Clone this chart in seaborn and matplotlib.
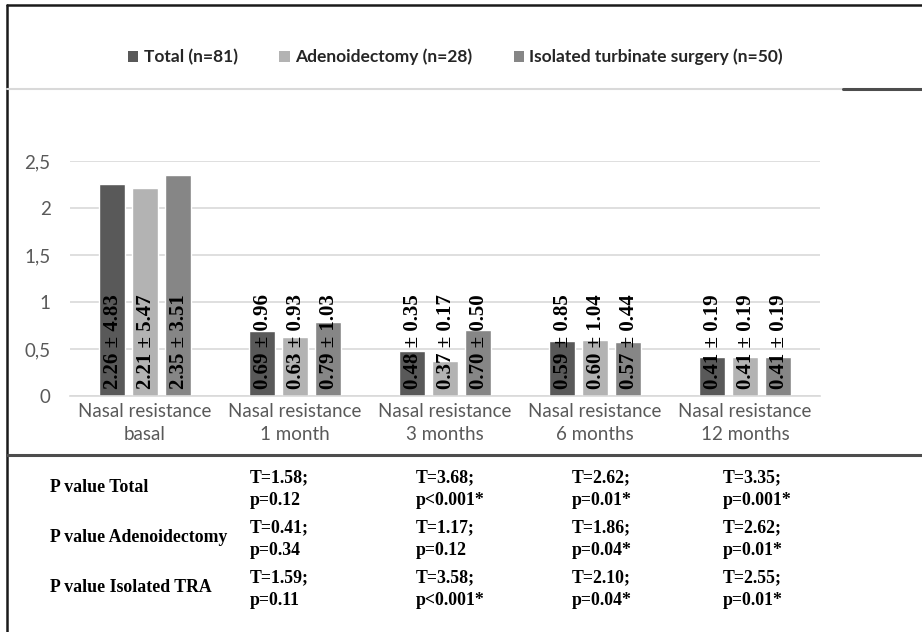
import matplotlib
matplotlib.use("Agg")
import matplotlib.pyplot as plt
from matplotlib.lines import Line2D
from matplotlib.patches import Patch
import seaborn as sns
import pandas as pd

# ---- data -------------------------------------------------------------
timepoints = ["Nasal resistance\nbasal", "Nasal resistance\n1 month",
              "Nasal resistance\n3 months", "Nasal resistance\n6 months",
              "Nasal resistance\n12 months"]
groups = ["Total (n=81)", "Adenoidectomy (n=28)",
          "Isolated turbinate surgery (n=50)"]

mean_total = [2.26, 0.69, 0.48, 0.59, 0.41]
mean_adeno = [2.21, 0.63, 0.37, 0.60, 0.41]
mean_isolated = [2.35, 0.79, 0.70, 0.57, 0.41]

sd_total = [4.83, 0.96, 0.35, 0.85, 0.19]
sd_adeno = [5.47, 0.93, 0.17, 1.04, 0.19]
sd_isolated = [3.51, 1.03, 0.50, 0.44, 0.19]

ytick_values = [0, 0.5, 1, 1.5, 2, 2.5]
ytick_labels = ["0", "0,5", "1", "1,5", "2", "2,5"]

row_labels = ["P value Total", "P value Adenoidectomy", "P value Isolated TRA"]
stats_total = ["T=1.58;\np=0.12", "T=3.68;\np<0.001*", "T=2.62;\np=0.01*", "T=3.35;\np=0.001*"]
stats_adeno = ["T=0.41;\np=0.34", "T=1.17;\np=0.12", "T=1.86;\np=0.04*", "T=2.62;\np=0.01*"]
stats_isolated = ["T=1.59;\np=0.11", "T=3.58;\np<0.001*", "T=2.10;\np=0.04*", "T=2.55;\np=0.01*"]

colors = ["#595959", "#b3b3b3", "#868686"]

# ---- long-form table for seaborn ---------------------------------------
means = [mean_total, mean_adeno, mean_isolated]
sds = [sd_total, sd_adeno, sd_isolated]
rows = []
for g, m_list, s_list in zip(groups, means, sds):
    for t, m, s in zip(timepoints, m_list, s_list):
        rows.append({"time": t, "group": g, "value": m, "sd": s})
df = pd.DataFrame(rows)

sns.set_theme(style="white")
plt.rcParams["font.family"] = ["Lato", "DejaVu Sans"]

fig = plt.figure(figsize=(9.22, 6.32), dpi=100)
ax = fig.add_axes([70 / 922, 1 - 396 / 632, 750 / 922, 235 / 632])

sns.barplot(data=df, x="time", y="value", hue="group", palette=colors,
            order=timepoints, hue_order=groups, width=0.66, gap=0.21,
            errorbar=None, saturation=1, zorder=2, ax=ax, legend=False)

ax.set_ylim(0, 2.5)
ax.set_xlim(-0.5, len(timepoints) - 0.5)
ax.set_yticks(ytick_values)
ax.set_yticklabels(ytick_labels)
ax.set_xlabel("")
ax.set_ylabel("")
ax.yaxis.grid(True, color="#d9d9d9", linewidth=1.2, zorder=0)
ax.set_axisbelow(True)
for side in ["top", "right", "left"]:
    ax.spines[side].set_visible(False)
ax.spines["bottom"].set_color("#d9d9d9")
ax.spines["bottom"].set_linewidth(1.2)
ax.tick_params(axis="y", length=0, pad=14, labelsize=13.5, labelcolor="#595959")
ax.tick_params(axis="x", length=0, pad=5, labelsize=13.5, labelcolor="#595959")
for lbl in ax.get_xticklabels():
    lbl.set_linespacing(1.4)

# mean ± SD written up each bar
for container, m_list, s_list in zip(ax.containers, means, sds):
    for bar, m, s in zip(container, m_list, s_list):
        cx = bar.get_x() + bar.get_width() / 2
        ax.annotate(f"{m:.2f} \u00b1 {s:.2f}", xy=(cx, 0), xytext=(1, 5),
                    textcoords="offset points", rotation=90,
                    ha="center", va="bottom", fontsize=15,
                    fontweight="bold", family="Liberation Serif",
                    color="black", zorder=5)

# legend across the top
handles = [Patch(facecolor=c, edgecolor="none") for c in colors]
fig.legend(handles, groups, loc="center", bbox_to_anchor=(0.494, 0.91),
           ncol=3, frameon=False, handlelength=0.6, handleheight=0.6,
           handletextpad=0.3, columnspacing=2.4,
           prop={"family": "Lato", "weight": "bold", "size": 12.5})

# frame and separator lines
fx0 = 7 / 922
fig.add_artist(Line2D([fx0, 1], [1 - 5 / 632] * 2, color="#1a1a1a", lw=1.8))
fig.add_artist(Line2D([fx0, fx0], [0, 1 - 5 / 632], color="#1a1a1a", lw=1.8))
fig.add_artist(Line2D([fx0, 843 / 922], [1 - 89 / 632] * 2, color="#d9d9d9", lw=1.5))
fig.add_artist(Line2D([843 / 922, 1], [1 - 89 / 632] * 2, color="#4d4d4d", lw=2.2))
fig.add_artist(Line2D([fx0, 1], [1 - 455 / 632] * 2, color="#4d4d4d", lw=2.2))

# statistics table beneath the chart
row_y = [487, 537, 587]
col_x = [250, 416, 572, 723]
table_font = {"family": "Liberation Serif", "weight": "bold", "size": 12.8}
for label, y, stats in zip(row_labels, row_y,
                           [stats_total, stats_adeno, stats_isolated]):
    fig.text(50 / 922, 1 - y / 632, label, ha="left", va="center",
             color="black", **table_font)
    for x, s in zip(col_x, stats):
        fig.text(x / 922, 1 - (y + 2) / 632, s, ha="left", va="center",
                 color="black", linespacing=1.4, **table_font)

fig.savefig("out.png", dpi=100)
